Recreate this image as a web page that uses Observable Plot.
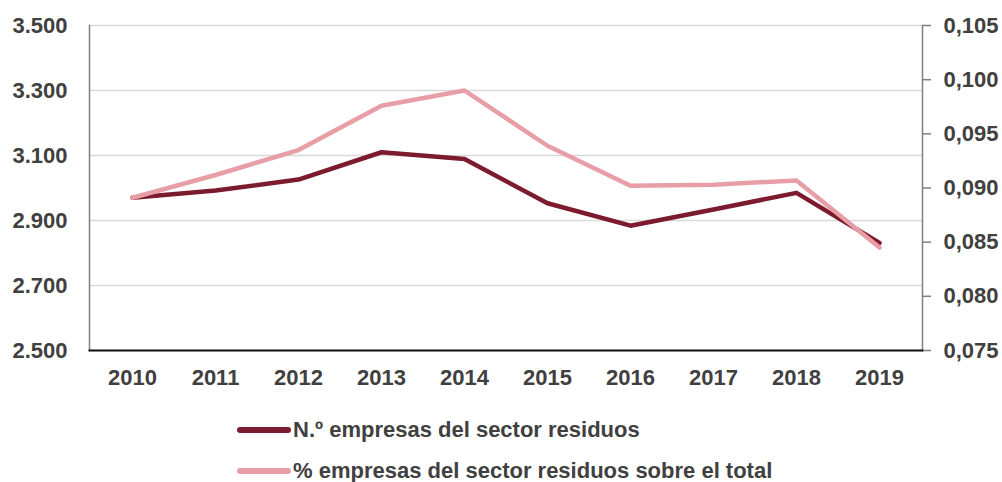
<!DOCTYPE html>
<html>
<head>
<meta charset="utf-8">
<script src="https://cdn.jsdelivr.net/npm/d3@7"></script>
<script src="https://cdn.jsdelivr.net/npm/@observablehq/plot@0.6"></script>
<style>
  html, body { margin: 0; padding: 0; background: #fff; }
  body { width: 1002px; height: 482px; overflow: hidden; font-family: "Liberation Sans", Arial, sans-serif; }
  #chart svg { display: block; }
  .legend { position: relative; height: 82px; }
  .item { position: absolute; left: 237px; height: 30px; display: flex; align-items: center; font-weight: bold; font-size: 22px; color: #404040; white-space: nowrap; }
  .sw { width: 54px; height: 5.5px; border-radius: 3px; margin-right: 2px; }
</style>
</head>
<body>
<div id="chart"></div>
<div class="legend" id="legend"></div>
<script>
const years = ["2010","2011","2012","2013","2014","2015","2016","2017","2018","2019"];
const empresas = [2970, 2992, 3026, 3110, 3089, 2953, 2884, 2934, 2985, 2831];
const porcentaje = [0.0891, 0.0912, 0.0935, 0.0976, 0.0990, 0.0939, 0.0902, 0.0903, 0.0907, 0.0845];
const leftTicks = [2500, 2700, 2900, 3100, 3300, 3500];
const rightTicks = [0.075, 0.080, 0.085, 0.090, 0.095, 0.100, 0.105];
const seriesNames = ["N.º empresas del sector residuos", "% empresas del sector residuos sobre el total"];
const colors = ["#7b1b2d", "#e79ea6"];

const leftDomain = [2500, 3500];
const rightDomain = [0.075, 0.105];
const toLeft = v => leftDomain[0] + (v - rightDomain[0]) / (rightDomain[1] - rightDomain[0]) * (leftDomain[1] - leftDomain[0]);

const es = d3.formatLocale({decimal: ",", thousands: ".", grouping: [3], currency: ["", "€"]});
const fmtLeft = es.format(",.0f");
const fmtRight = es.format(".3f");

const dataA = years.map((y, i) => ({year: y, value: empresas[i]}));
const dataB = years.map((y, i) => ({year: y, value: toLeft(porcentaje[i])}));

const font = "Liberation Sans, Arial, sans-serif";

const chart = Plot.plot({
  width: 1002,
  height: 400,
  marginLeft: 89,
  marginRight: 80,
  marginTop: 25,
  marginBottom: 50,
  style: {fontFamily: font, fontSize: "22px", fontWeight: "bold", color: "#404040", background: "#fff"},
  x: {type: "point", domain: years, padding: 0.5},
  y: {domain: leftDomain},
  marks: [
    Plot.ruleY(leftTicks, {stroke: "#d9d9d9", strokeWidth: 1.5}),
    Plot.frame({anchor: "left", stroke: "#7f7f7f", strokeWidth: 1.5}),
    Plot.frame({anchor: "right", stroke: "#7f7f7f", strokeWidth: 1.5}),
    Plot.frame({anchor: "bottom", stroke: "#111", strokeWidth: 2}),
    Plot.axisY({anchor: "left", ticks: leftTicks, tickSize: 0, tickPadding: 22, tickFormat: fmtLeft, label: null, fill: "#404040"}),
    Plot.axisY({anchor: "right", ticks: rightTicks.map(toLeft), tickSize: 8, tickPadding: 13, stroke: "#7f7f7f", strokeWidth: 1.5,
      tickFormat: (d, i) => fmtRight(rightTicks[i]), label: null, fill: "#404040"}),
    Plot.axisX({tickSize: 0, tickPadding: 19, label: null, fill: "#404040"}),
    Plot.line(dataA, {x: "year", y: "value", stroke: colors[0], strokeWidth: 4.5}),
    Plot.line(dataB, {x: "year", y: "value", stroke: colors[1], strokeWidth: 4.5})
  ]
});
document.getElementById("chart").appendChild(chart);

const legend = document.getElementById("legend");
const tops = [15, 56];
seriesNames.forEach((name, i) => {
  const item = document.createElement("div");
  item.className = "item";
  item.style.top = tops[i] + "px";
  const sw = document.createElement("span");
  sw.className = "sw";
  sw.style.background = colors[i];
  const label = document.createElement("span");
  label.textContent = name;
  item.appendChild(sw);
  item.appendChild(label);
  legend.appendChild(item);
});
</script>
</body>
</html>
